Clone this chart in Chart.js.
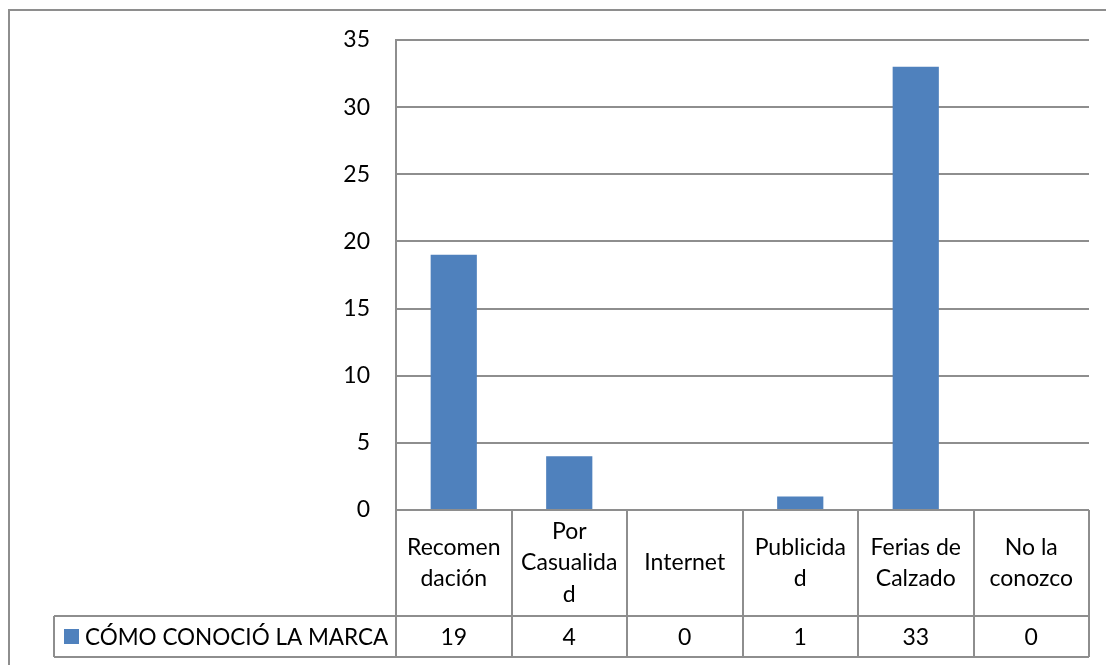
<!DOCTYPE html>
<html>
<head>
<meta charset="utf-8">
<script src="https://cdn.jsdelivr.net/npm/chart.js@4.4.0/dist/chart.umd.min.js"></script>
<style>
  html, body { margin: 0; padding: 0; background: #fff; }
  canvas { display: block; }
</style>
</head>
<body>
<canvas id="chart" width="1106" height="665"></canvas>
<script>
// Categories (wrapped as they appear in the data table cells)
const categories = [
  ['Recomen', 'dación'],
  ['Por', 'Casualida', 'd'],
  ['Internet'],
  ['Publicida', 'd'],
  ['Ferias de', 'Calzado'],
  ['No la', 'conozco']
];
const seriesName = 'CÓMO CONOCIÓ LA MARCA';
const seriesValues = [19, 4, 0, 1, 33, 0];
const yTicks = [0, 5, 10, 15, 20, 25, 30, 35];

const FONT_FAMILY = 'Lato, "Liberation Sans", sans-serif';
const FONT_SIZE = 23;
const KEY_FONT_SIZE = 22.5;
const LINE_COLOR = '#8e8e8e';
const BAR_COLOR = '#4f81bd';

// Frame plus the data table (category row, value row, legend key) under the plot
const dataTable = {
  id: 'dataTable',
  beforeDraw(chart) {
    const ctx = chart.ctx;
    ctx.save();
    ctx.fillStyle = '#fff';
    ctx.fillRect(0, 0, chart.width, chart.height);
    ctx.strokeStyle = LINE_COLOR;
    ctx.lineWidth = 2;
    ctx.strokeRect(9, 10, chart.width + 100, chart.height + 100);
    ctx.restore();
  },
  afterDraw(chart) {
    const ctx = chart.ctx;
    const area = chart.chartArea;
    const x = chart.scales.x;
    const n = categories.length;
    const catTop = area.bottom;
    const catBottom = area.bottom + 106;
    const valBottom = area.bottom + 147;
    const keyLeft = 54;

    // column boundaries from the category scale
    const bounds = [area.left];
    for (let i = 0; i < n - 1; i++) {
      bounds.push((x.getPixelForValue(i) + x.getPixelForValue(i + 1)) / 2);
    }
    bounds.push(area.right);

    ctx.save();
    ctx.strokeStyle = LINE_COLOR;
    ctx.lineWidth = 2;
    ctx.beginPath();
    ctx.moveTo(area.left, catTop); ctx.lineTo(area.right, catTop);
    ctx.moveTo(keyLeft, catBottom); ctx.lineTo(area.right, catBottom);
    ctx.moveTo(keyLeft, valBottom); ctx.lineTo(area.right, valBottom);
    bounds.forEach(b => {
      const bx = Math.round(b);
      ctx.moveTo(bx, catTop); ctx.lineTo(bx, valBottom);
    });
    ctx.moveTo(keyLeft, catBottom); ctx.lineTo(keyLeft, valBottom);
    ctx.stroke();

    ctx.fillStyle = '#000';
    ctx.font = FONT_SIZE + 'px ' + FONT_FAMILY;
    ctx.textAlign = 'center';
    ctx.textBaseline = 'middle';
    const lineH = 31.5;
    const catMid = (catTop + catBottom) / 2;
    const valMid = (catBottom + valBottom) / 2;
    categories.forEach((lines, i) => {
      const cx = x.getPixelForValue(i);
      const start = catMid - (lines.length - 1) * lineH / 2;
      lines.forEach((t, j) => ctx.fillText(t, cx, start + j * lineH));
      ctx.fillText(String(seriesValues[i]), cx, valMid + 1);
    });

    // legend key in the value row
    ctx.fillStyle = BAR_COLOR;
    ctx.fillRect(64, valMid - 7.5, 15, 15);
    ctx.fillStyle = '#000';
    ctx.font = KEY_FONT_SIZE + 'px ' + FONT_FAMILY;
    ctx.textAlign = 'left';
    ctx.fillText(seriesName, 85, valMid + 1);
    ctx.restore();
  }
};

new Chart(document.getElementById('chart'), {
  type: 'bar',
  data: {
    labels: categories,
    datasets: [{
      label: seriesName,
      data: seriesValues,
      backgroundColor: BAR_COLOR,
      borderWidth: 0,
      barPercentage: 0.4,
      categoryPercentage: 1.0
    }]
  },
  options: {
    responsive: false,
    animation: false,
    devicePixelRatio: 1,
    layout: { padding: { top: 40, right: 17, bottom: 155, left: 0 } },
    plugins: {
      legend: { display: false },
      tooltip: { enabled: false },
      title: { display: false }
    },
    scales: {
      x: {
        type: 'category',
        display: false,
        offset: true
      },
      y: {
        min: 0,
        max: 35,
        afterFit(scale) { scale.width = 396; },
        afterBuildTicks(scale) { scale.ticks = yTicks.map(v => ({ value: v })); },
        ticks: {
          padding: 26,
          color: '#000',
          font: { family: FONT_FAMILY, size: FONT_SIZE }
        },
        grid: {
          color: LINE_COLOR,
          lineWidth: 2,
          drawTicks: false
        },
        border: { display: true, color: LINE_COLOR, width: 2 }
      }
    }
  },
  plugins: [dataTable]
});
</script>
</body>
</html>
